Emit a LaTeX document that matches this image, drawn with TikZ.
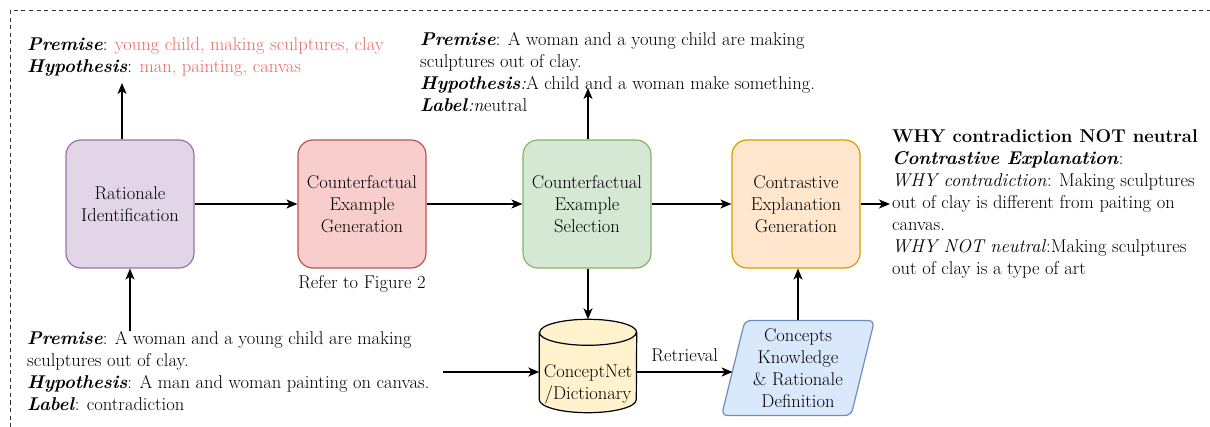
\documentclass[tikz,border=0pt]{standalone}
\usepackage{fontspec}
\usetikzlibrary{arrows.meta,shapes.geometric}
\definecolor{ridfill}{HTML}{E1D5E7}
\definecolor{ridline}{HTML}{9673A6}
\definecolor{cfgfill}{HTML}{F8CECC}
\definecolor{cfgline}{HTML}{B85450}
\definecolor{cfsfill}{HTML}{D5E8D4}
\definecolor{cfsline}{HTML}{82B366}
\definecolor{cegfill}{HTML}{FFE6CC}
\definecolor{cegline}{HTML}{D79B00}
\definecolor{ckdfill}{HTML}{DAE8FC}
\definecolor{ckdline}{HTML}{6C8EBF}
\definecolor{kbfill}{HTML}{FFF2CC}
\definecolor{hl}{HTML}{EA6B66}
\newcommand{\bi}[1]{\textbf{\textit{#1}}}
\tikzset{
  stage/.style={draw, rounded corners=15pt, line width=1.2pt, minimum width=128pt, minimum height=128pt, align=center},
  info/.style={anchor=west, align=left, inner sep=0pt},
  flow/.style={->, line width=1.5pt}
}
\begin{document}
\begin{tikzpicture}[x=1pt, y=-1pt, font=\fontsize{18.5}{22}\selectfont, line join=round, >={Stealth[length=11pt,width=9pt,inset=3pt]}]
\useasboundingbox (0,0) rectangle (1210,427);
% frame
\draw[black!80, line width=1pt, dash pattern=on 4pt off 3.5pt] (10,427) |- (1210,11);
% main stages
\node[stage, fill=ridfill, draw=ridline] (rid) at (130,204) {Rationale\\Identification};
\node[stage, fill=cfgfill, draw=cfgline] (cfg) at (362,204) {Counterfactual\\Example\\Generation};
\node[stage, fill=cfsfill, draw=cfsline] (cfs) at (587,204) {Counterfactual\\Example\\Selection};
\node[stage, fill=cegfill, draw=cegline] (ceg) at (796,204) {Contrastive\\Explanation\\Generation};
\node (ref) at (362,284) {Refer to Figure 2};
% knowledge
\node[minimum width=97pt, minimum height=93pt, inner sep=0pt] (kb) at (588,366) {};
\draw[line width=1.2pt, fill=kbfill] ([yshift=-13pt]kb.north west) -- ([yshift=13pt]kb.south west)
  arc[start angle=180, end angle=0, x radius=48.5, y radius=13] -- ([yshift=-13pt]kb.north east)
  arc[start angle=0, end angle=-180, x radius=48.5, y radius=13] -- cycle;
\draw[line width=1.2pt] ([yshift=-13pt]kb.north west) arc[start angle=180, end angle=0, x radius=48.5, y radius=13];
\node[align=center] (kbtext) at (588,384) {ConceptNet\\/Dictionary};
\node[trapezium, trapezium left angle=76, trapezium right angle=104, trapezium stretches=true, draw=ckdline, fill=ckdfill, line width=1.2pt, rounded corners=6pt, minimum width=153pt, minimum height=95pt, align=center, inner sep=0pt] (ckd) at (798,368) {Concepts\\Knowledge\\\& Rationale\\Definition};
% texts
\node[info] (rat) at (27,57) {\bi{Premise}: \textcolor{hl}{young child, making sculptures, clay}\\\bi{Hypothesis}: \textcolor{hl}{man, painting, canvas}};
\node[info] (cfx) at (420,72) {\bi{Premise}: A woman and a young child are making\\sculptures out of clay.\\\bi{Hypothesis}\textit{:}A child and a woman make something.\\\bi{Label}\textit{:n}eutral};
\node[info] (inp) at (27,371) {\bi{Premise}: A woman and a young child are making\\sculptures out of clay.\\\bi{Hypothesis}: A man and woman painting on canvas.\\\bi{Label}: contradiction};
\node[info] (out) at (892,204) {\textbf{WHY contradiction NOT neutral}\\\bi{Contrastive Explanation}:\\\textit{WHY contradiction}: Making sculptures\\out of clay is different from paiting on\\canvas.\\\textit{WHY NOT neutral}:Making sculptures\\out of clay is a type of art};
\coordinate (ratTip) at (122,83);
\coordinate (cfxTip) at (588,88);
\coordinate (inpEnd) at (443,372);
% connectors
\draw[flow] (rid) -- (cfg);
\draw[flow] (cfg) -- (cfs);
\draw[flow] (cfs) -- (ceg);
\draw[flow] (ceg.east) -- ([xshift=-2pt]out.west);
\draw[flow] (rid.north -| ratTip) -- (ratTip);
\draw[flow] (cfs.north -| cfxTip) -- (cfxTip);
\draw[flow] (rid.south |- inp.north) -- (rid.south);
\draw[flow] (cfs.south -| kb) -- (kb.north);
\draw[flow] (inpEnd) -- (kb.west |- inpEnd);
\draw[flow] (kb.east |- inpEnd) -- node[above=6pt] (ret) {Retrieval} (ckd.west |- inpEnd);
\draw[flow] (ckd.north) -- (ckd.north |- ceg.south);
\end{tikzpicture}
\end{document}
